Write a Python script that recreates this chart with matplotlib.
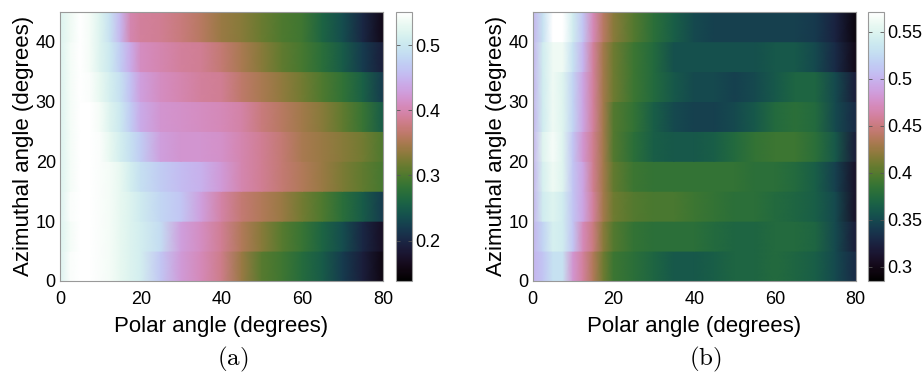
import numpy as np
import matplotlib
matplotlib.use('Agg')
from matplotlib import pyplot as plt
from matplotlib.ticker import FormatStrFormatter

plt.rcParams['font.family'] = ['Liberation Sans', 'DejaVu Sans']
plt.rcParams['mathtext.fontset'] = 'cm'

################################################################################
### Data (rows = azimuthal bands of 5 deg, bottom to top)
################################################################################
polar = [0, 2.5, 5, 7.5, 10, 12.5, 15, 17.5, 20, 25, 30, 35, 40,
         45, 50, 55, 60, 65, 70, 75, 80]
azimuth_edges = [0, 5, 10, 15, 20, 25, 30, 35, 40, 45]

# panel (a)
a_az0  = [0.52, 0.545, 0.55, 0.55, 0.545, 0.54, 0.53, 0.52, 0.51, 0.465, 0.425, 0.405, 0.38, 0.34, 0.305, 0.29, 0.27, 0.25, 0.22, 0.19, 0.155]
a_az5  = [0.52, 0.54, 0.55, 0.55, 0.545, 0.54, 0.53, 0.52, 0.51, 0.485, 0.43, 0.41, 0.385, 0.355, 0.33, 0.305, 0.285, 0.26, 0.235, 0.20, 0.17]
a_az10 = [0.52, 0.545, 0.55, 0.55, 0.545, 0.54, 0.53, 0.52, 0.505, 0.48, 0.465, 0.43, 0.395, 0.37, 0.355, 0.34, 0.32, 0.30, 0.275, 0.25, 0.22]
a_az15 = [0.52, 0.54, 0.55, 0.55, 0.545, 0.54, 0.53, 0.51, 0.49, 0.47, 0.455, 0.445, 0.425, 0.40, 0.385, 0.37, 0.355, 0.34, 0.325, 0.31, 0.295]
a_az20 = [0.52, 0.54, 0.55, 0.55, 0.545, 0.53, 0.51, 0.49, 0.47, 0.43, 0.42, 0.42, 0.415, 0.40, 0.385, 0.37, 0.35, 0.34, 0.33, 0.32, 0.30]
a_az25 = [0.52, 0.54, 0.55, 0.55, 0.54, 0.52, 0.50, 0.47, 0.44, 0.42, 0.415, 0.41, 0.405, 0.395, 0.375, 0.36, 0.345, 0.33, 0.31, 0.285, 0.25]
a_az30 = [0.52, 0.54, 0.55, 0.545, 0.53, 0.51, 0.49, 0.46, 0.43, 0.41, 0.40, 0.39, 0.385, 0.365, 0.35, 0.335, 0.32, 0.30, 0.28, 0.255, 0.22]
a_az35 = [0.52, 0.54, 0.55, 0.54, 0.52, 0.50, 0.47, 0.44, 0.41, 0.40, 0.39, 0.385, 0.37, 0.35, 0.33, 0.31, 0.295, 0.275, 0.25, 0.22, 0.19]
a_az40 = [0.52, 0.535, 0.55, 0.54, 0.52, 0.49, 0.45, 0.40, 0.39, 0.385, 0.375, 0.36, 0.34, 0.33, 0.315, 0.30, 0.29, 0.26, 0.235, 0.20, 0.16]

# panel (b)
b_az0  = [0.50, 0.51, 0.53, 0.53, 0.48, 0.46, 0.435, 0.41, 0.39, 0.38, 0.37, 0.36, 0.36, 0.365, 0.37, 0.37, 0.375, 0.37, 0.365, 0.35, 0.33]
b_az5  = [0.50, 0.52, 0.545, 0.54, 0.51, 0.47, 0.45, 0.42, 0.40, 0.385, 0.38, 0.38, 0.38, 0.375, 0.37, 0.37, 0.375, 0.375, 0.37, 0.35, 0.32]
b_az10 = [0.50, 0.54, 0.55, 0.54, 0.51, 0.49, 0.46, 0.43, 0.41, 0.40, 0.395, 0.395, 0.39, 0.385, 0.38, 0.38, 0.375, 0.37, 0.365, 0.35, 0.31]
b_az15 = [0.50, 0.545, 0.56, 0.55, 0.51, 0.49, 0.455, 0.43, 0.405, 0.39, 0.385, 0.385, 0.385, 0.385, 0.385, 0.38, 0.38, 0.375, 0.365, 0.345, 0.31]
b_az20 = [0.50, 0.55, 0.565, 0.55, 0.51, 0.48, 0.455, 0.43, 0.40, 0.38, 0.365, 0.36, 0.36, 0.365, 0.375, 0.385, 0.39, 0.39, 0.38, 0.36, 0.32]
b_az25 = [0.50, 0.54, 0.56, 0.55, 0.52, 0.49, 0.46, 0.43, 0.40, 0.385, 0.365, 0.35, 0.345, 0.345, 0.35, 0.36, 0.375, 0.38, 0.375, 0.35, 0.33]
b_az30 = [0.50, 0.54, 0.56, 0.55, 0.52, 0.49, 0.46, 0.43, 0.41, 0.39, 0.375, 0.36, 0.35, 0.35, 0.345, 0.35, 0.36, 0.37, 0.37, 0.35, 0.32]
b_az35 = [0.50, 0.54, 0.56, 0.56, 0.53, 0.50, 0.46, 0.43, 0.41, 0.39, 0.375, 0.355, 0.355, 0.355, 0.355, 0.355, 0.36, 0.36, 0.35, 0.33, 0.30]
b_az40 = [0.50, 0.53, 0.57, 0.57, 0.54, 0.51, 0.47, 0.44, 0.42, 0.40, 0.38, 0.365, 0.35, 0.345, 0.345, 0.345, 0.345, 0.345, 0.34, 0.325, 0.295]

a_limits = (0.138, 0.551)
b_limits = (0.285, 0.571)
a_ticks = [0.2, 0.3, 0.4, 0.5]
b_ticks = [0.3, 0.35, 0.4, 0.45, 0.5, 0.55]

panel_a = [a_az0, a_az5, a_az10, a_az15, a_az20, a_az25, a_az30, a_az35, a_az40]
panel_b = [b_az0, b_az5, b_az10, b_az15, b_az20, b_az25, b_az30, b_az35, b_az40]

################################################################################
### Figure
################################################################################
fig = plt.figure(figsize=(9.23, 3.76), dpi=100)

panels = [
    (panel_a, a_limits, a_ticks, 0.0650, 0.4287, 0.0180, '(a)'),
    (panel_b, b_limits, b_ticks, 0.5771, 0.9407, 0.0173, '(b)'),
]

for rows, lims, ticks, left, cleft, cwidth, tag in panels:
    ax = fig.add_axes([left, 0.2527, 0.350, 0.716])
    cax = fig.add_axes([cleft, 0.2527, cwidth, 0.716])

    # each azimuthal band is drawn as a flat strip, smooth along polar angle
    z = np.array(rows)
    c = np.repeat(z, 2, axis=0)
    yy = []
    for lo, hi in zip(azimuth_edges[:-1], azimuth_edges[1:]):
        yy += [lo, hi]
    X, Y = np.meshgrid(polar, yy)
    mesh = ax.pcolormesh(X, Y, c, shading='gouraud', cmap='cubehelix',
                         vmin=lims[0], vmax=lims[1])

    ax.set_xlim(0, 80)
    ax.set_ylim(0, 45)
    ax.set_xticks([0, 20, 40, 60, 80])
    ax.set_yticks([0, 10, 20, 30, 40])
    ax.tick_params(length=0, labelsize=13)
    ax.tick_params(axis='x', pad=7)
    ax.tick_params(axis='y', pad=3)
    ax.set_xlabel('Polar angle (degrees)', fontsize=16, labelpad=6)
    ax.set_ylabel('Azimuthal angle (degrees)', fontsize=16, labelpad=1)
    for s in ax.spines.values():
        s.set_color('#999999')
        s.set_linewidth(0.8)

    cb = fig.colorbar(mesh, cax=cax, ticks=ticks)
    cb.ax.yaxis.set_major_formatter(FormatStrFormatter('%g'))
    cb.ax.tick_params(direction='in', length=3, width=0.6, color='#555555',
                      labelsize=13, pad=2, left=True)
    cb.outline.set_edgecolor('#999999')
    cb.outline.set_linewidth(0.8)

    fig.text(left + 0.1875, 0.045, r'$\mathrm{' + tag + '}$', fontsize=18,
             ha='center', va='center')

fig.savefig('out.png', dpi=100)
